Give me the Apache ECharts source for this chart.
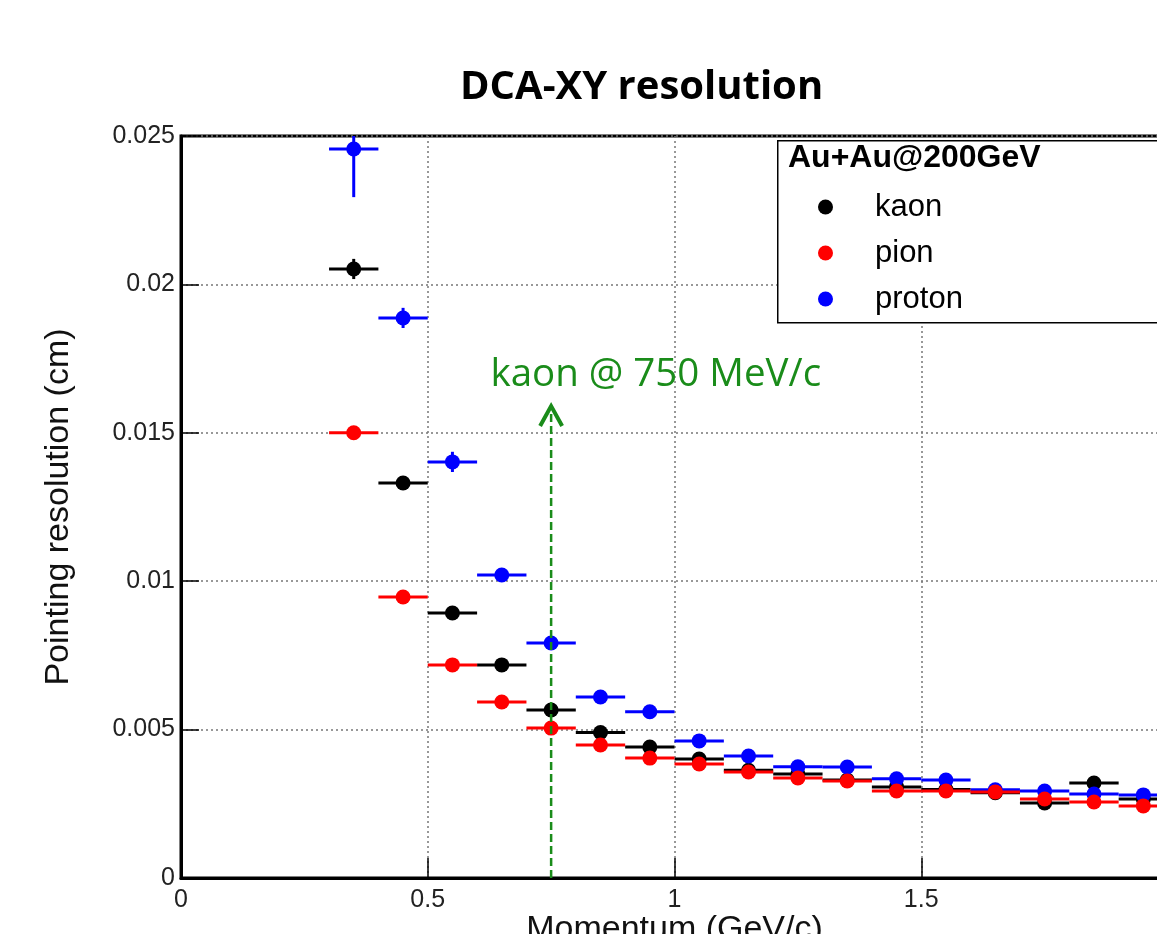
<!DOCTYPE html>
<html>
<head>
<meta charset="utf-8">
<script src="https://cdn.jsdelivr.net/npm/echarts@6/dist/echarts.min.js"></script>
<style>
html,body{margin:0;padding:0;background:#fff;}
#chart{width:1157px;height:934px;}
</style>
</head>
<body>
<div id="chart"></div>
<script>
// ---- data ----
const momentum = [0.35,0.45,0.55,0.65,0.75,0.85,0.95,1.05,1.15,1.25,1.35,1.45,1.55,1.65,1.75,1.85,1.95];
const binHalfWidth = 0.05;
const kaon   = [0.02052,0.01331,0.00893,0.00718,0.00566,0.00490,0.00441,0.00401,0.00363,0.00350,0.00330,0.00307,0.00298,0.00287,0.00253,0.00320,0.00266];
const pion   = [0.01500,0.00947,0.00718,0.00593,0.00505,0.00448,0.00404,0.00384,0.00357,0.00337,0.00327,0.00293,0.00293,0.00290,0.00266,0.00256,0.00243];
const proton = [0.02456,0.01887,0.01402,0.01021,0.00792,0.00610,0.00560,0.00462,0.00411,0.00375,0.00374,0.00334,0.00330,0.00297,0.00293,0.00283,0.00280];
const kaonErr   = [0.00034,0.00020,0.00015,0.00012,0.00010,0.00008,0.00007,0.00006,0.00005,0.00005,0.00005,0.00005,0.00005,0.00005,0.00005,0.00005,0.00005];
const pionErr   = [0.00015,0.00010,0.00008,0.00006,0.00005,0.00005,0.00004,0.00004,0.00004,0.00004,0.00004,0.00004,0.00004,0.00004,0.00004,0.00004,0.00004];
const protonErr = [0.00162,0.00034,0.00034,0.00020,0.00015,0.00012,0.00010,0.00008,0.00007,0.00006,0.00006,0.00006,0.00006,0.00006,0.00006,0.00006,0.00006];
const seriesNames = ['kaon','pion','proton'];
const xTicks = {min:0, max:2, interval:0.5};
const yTicks = {min:0, max:0.025, interval:0.005};
const arrowMomentum = 0.75;     // kaon @ 750 MeV/c
const arrowTip = 0.0159;
const noteText = 'kaon @ 750 MeV/c';
const notePos = [0.627, 0.01695];
const legendTitle = 'Au+Au@200GeV';

function zip(xs, ys, es){ return xs.map((x,i)=>[x, ys[i], es[i]]); }

function renderPoint(params, api){
  const x = api.value(0), y = api.value(1), e = api.value(2);
  const pL = api.coord([x - binHalfWidth, y]);
  const pR = api.coord([x + binHalfWidth, y]);
  const pT = api.coord([x, y + e]);
  const pB = api.coord([x, y - e]);
  const pC = api.coord([x, y]);
  const c = api.visual('color');
  return {type:'group', children:[
    {type:'line', shape:{x1:pL[0],y1:pL[1],x2:pR[0],y2:pR[1]}, style:{stroke:c, lineWidth:3}},
    {type:'line', shape:{x1:pT[0],y1:pT[1],x2:pB[0],y2:pB[1]}, style:{stroke:c, lineWidth:3}},
    {type:'circle', shape:{cx:pC[0], cy:pC[1], r:7.5}, style:{fill:c}}
  ]};
}

function renderArrow(params, api){
  const base = api.coord([arrowMomentum, 0]);
  const tip = api.coord([arrowMomentum, arrowTip]);
  const note = api.coord(notePos);
  const g = '#1a8c1a';
  return {type:'group', children:[
    {type:'line', shape:{x1:base[0],y1:base[1],x2:tip[0],y2:tip[1]+2},
     style:{stroke:g, lineWidth:2.5, lineDash:[8,4]}},
    {type:'polyline', shape:{points:[[tip[0]-11,tip[1]+20],[tip[0],tip[1]],[tip[0]+11,tip[1]+20]]},
     style:{stroke:g, lineWidth:4, fill:null}},
    {type:'text', x:note[0], y:note[1],
     style:{text:noteText, fill:g, font:'38.5px "Open Sans"', textAlign:'left', textVerticalAlign:'middle'}}
  ]};
}

const colors = {kaon:'#000000', pion:'#ff0000', proton:'#0000ff'};
const dataMap = {
  kaon: zip(momentum, kaon, kaonErr),
  pion: zip(momentum, pion, pionErr),
  proton: zip(momentum, proton, protonErr)
};
const drawOrder = ['kaon','proton','pion'];

const series = drawOrder.map(n => ({
  name:n, type:'custom', renderItem:renderPoint, clip:true,
  itemStyle:{color:colors[n]}, data:dataMap[n], z:3
}));
series.push({name:'arrow', type:'custom', renderItem:renderArrow, clip:false, data:[[arrowMomentum, arrowTip]], z:5, silent:true});

const chart = echarts.init(document.getElementById('chart'));
const tickFont = {fontFamily:'Liberation Sans', fontSize:25, color:'#222'};
chart.setOption({
  backgroundColor:'#fff',
  animation:false,
  title:{text:'DCA-XY resolution', left:455, top:63,
    textStyle:{fontFamily:'Open Sans', fontWeight:'bold', fontSize:40, color:'#000'}},
  grid:{left:181, top:136, bottom:56, right:-11, outerBoundsMode:'none', containLabel:false,
    show:true, borderColor:'#000', borderWidth:3},
  legend:{
    data: seriesNames.map(n => ({name:n, icon:'circle'})),
    orient:'vertical', left:813, top:184, itemWidth:15, itemHeight:15, itemGap:10, z:20,
    textStyle:{fontFamily:'Liberation Sans', fontSize:31, color:'#000', lineHeight:36, padding:[0,0,0,37]},
    selectedMode:false
  },
  xAxis:{type:'value', min:xTicks.min, max:xTicks.max, interval:xTicks.interval,
    name:'Momentum (GeV/c)', nameLocation:'middle', nameGap:35, nameMoveOverlap:false,
    nameTextStyle:{fontFamily:'Liberation Sans', fontSize:34, color:'#111'},
    axisLine:{lineStyle:{color:'#000', width:3}},
    axisTick:{inside:true, length:20, lineStyle:{color:'#000', width:1.5}},
    axisLabel:Object.assign({margin:10, formatter:v=>String(parseFloat(v.toFixed(3)))}, tickFont),
    splitLine:{show:true, lineStyle:{color:'#777', type:[2,3], width:1.5}}
  },
  yAxis:{type:'value', min:yTicks.min, max:yTicks.max, interval:yTicks.interval,
    name:'Pointing resolution (cm)', nameLocation:'middle', nameGap:105, nameRotate:90,
    nameTextStyle:{fontFamily:'Liberation Sans', fontSize:34, color:'#111'},
    axisLine:{lineStyle:{color:'#000', width:3}},
    axisTick:{inside:true, length:18, lineStyle:{color:'#000', width:1.5}},
    axisLabel:Object.assign({margin:6, formatter:v=>String(parseFloat(v.toFixed(4)))}, tickFont),
    splitLine:{show:true, lineStyle:{color:'#777', type:[2,3], width:1.5}}
  },
  graphic:[
    {type:'rect', left:777, top:140, z:10, shape:{width:400, height:182},
     style:{fill:'#fff', stroke:'#000', lineWidth:1.5}},
    {type:'text', left:788, top:142, z:11,
     style:{text:legendTitle, font:'bold 32px "Liberation Sans"', fill:'#000'}}
  ],
  series:series
});
</script>
</body>
</html>
